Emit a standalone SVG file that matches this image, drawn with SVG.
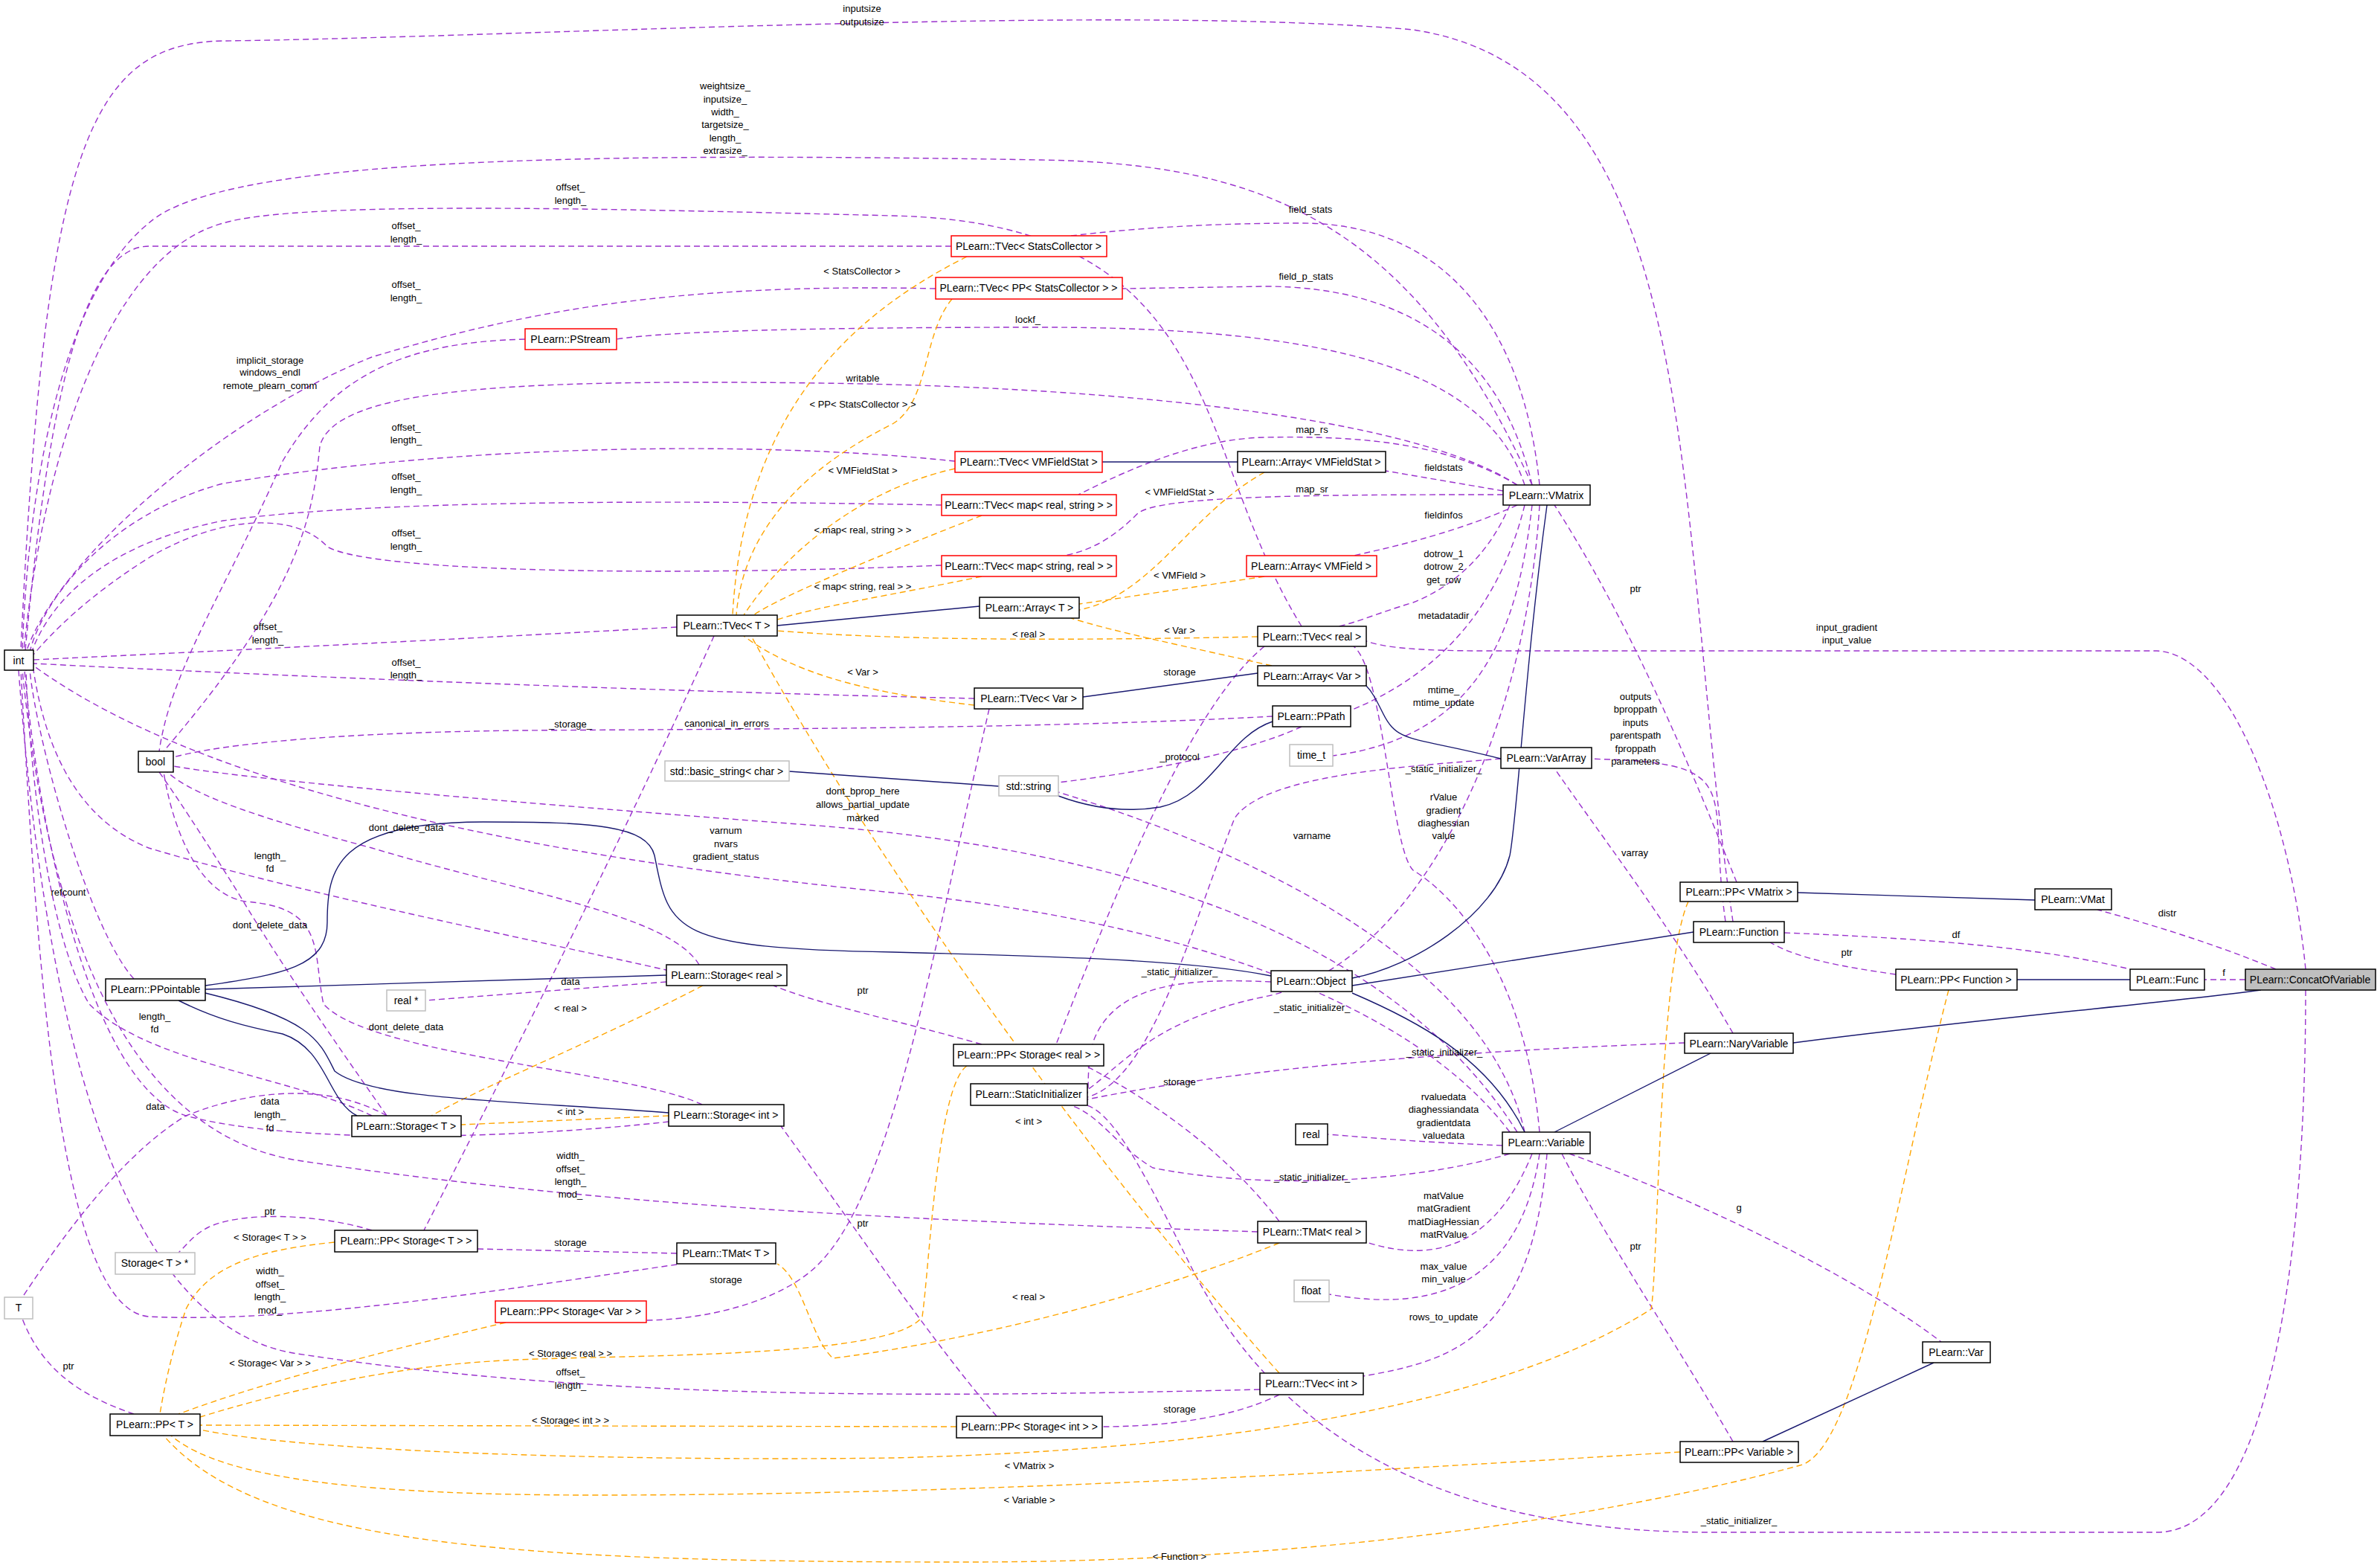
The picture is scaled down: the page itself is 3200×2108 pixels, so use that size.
<svg xmlns="http://www.w3.org/2000/svg" width="3200" height="2108" viewBox="0 0 3200 2108">
<style>
text{font-family:"Liberation Sans",Arial,sans-serif;fill:#000}
.n text{font-size:14px;text-anchor:middle}
.n rect{fill:#fff;stroke:#000;stroke-width:1.5}
.red rect{stroke:#ff0000}
.gray rect{stroke:#bfbfbf}
.cur rect{fill:#bfbfbf}
.l{font-size:13px;text-anchor:middle}
path{fill:none;stroke-width:1.4}
.p{stroke:#9a32cd;stroke-dasharray:8,5;marker-end:url(#mp)}
.o{stroke:#ffa500;stroke-dasharray:8,5;marker-end:url(#mo)}
.b{stroke:#191970;marker-end:url(#mb)}
</style>
<defs>
<marker id="mp" markerUnits="userSpaceOnUse" markerWidth="16" markerHeight="12" refX="15" refY="6" orient="auto"><path d="M0,0L16,6L0,12z" fill="#9a32cd" stroke="none"/></marker>
<marker id="mo" markerUnits="userSpaceOnUse" markerWidth="16" markerHeight="12" refX="15" refY="6" orient="auto"><path d="M0,0L16,6L0,12z" fill="#ffa500" stroke="none"/></marker>
<marker id="mb" markerUnits="userSpaceOnUse" markerWidth="16" markerHeight="12" refX="15" refY="6" orient="auto"><path d="M0,0L16,6L0,12z" fill="#191970" stroke="none"/></marker>
</defs>
<rect width="3200" height="2108" fill="#fff"/>
<g id="edges">
<path class="p" d="M2330,1239 C2250,700 2300,100 1900,40 C1500,5 700,50 300,55 C120,58 60,200 28,874"/>
<path class="p" d="M2060,652 C1900,300 1700,220 1400,215 C800,205 300,210 200,300 C100,380 40,600 30,874"/>
<path class="p" d="M1750,842 C1600,600 1650,300 1200,290 C800,280 400,270 300,300 C150,340 60,600 32,874"/>
<path class="p" d="M1279,331 L200,331 C100,331 60,600 34,874"/>
<path class="p" d="M1258,388 C900,380 700,420 500,480 C300,560 80,750 36,874"/>
<path class="p" d="M706,456 C550,460 450,500 380,620 C300,800 230,900 214,1010"/>
<path class="p" d="M2040,652 C1900,560 1500,520 1100,515 C700,510 450,520 430,600 C420,700 400,800 220,1010"/>
<path class="p" d="M1284,620 C1000,590 600,600 300,650 C150,690 60,800 40,876"/>
<path class="p" d="M1266,679 C900,672 500,672 300,700 C150,730 70,800 42,878"/>
<path class="p" d="M1266,760 C900,775 500,770 440,735 C400,690 300,690 200,750 C120,800 70,850 45,880"/>
<path class="p" d="M910,843 C600,860 300,875 45,887"/>
<path class="p" d="M1310,939 C900,930 400,910 45,892"/>
<path class="p" d="M1711,963 C1400,980 1000,980 700,982 C450,985 300,1000 233,1018"/>
<path class="p" d="M940,1297 C900,1230 700,1200 500,1140 C350,1100 260,1070 225,1038"/>
<path class="p" d="M520,1500 C450,1400 380,1300 320,1200 C270,1120 230,1060 214,1038"/>
<path class="p" d="M944,1485 C850,1440 500,1420 435,1350 C420,1280 440,1220 330,1212 C260,1200 230,1100 220,1038"/>
<path class="p" d="M900,1305 C700,1260 400,1200 200,1140 C100,1100 60,1000 45,901"/>
<path class="p" d="M180,1316 C120,1250 50,1000 40,901"/>
<path class="p" d="M500,1500 C400,1450 200,1430 120,1350 C60,1250 38,1000 35,901"/>
<path class="p" d="M520,1500 C450,1460 350,1460 250,1500 C150,1560 60,1700 30,1744"/>
<path class="p" d="M899,1508 C700,1530 400,1540 250,1500 C120,1460 50,1100 33,901"/>
<path class="p" d="M896,1320 L572,1345"/>
<path class="p" d="M1691,1656 C1200,1640 800,1620 400,1560 C150,1520 60,1200 30,901"/>
<path class="p" d="M500,1654 C420,1630 320,1630 280,1650 C260,1660 250,1675 240,1684"/>
<path class="p" d="M910,1685 L642,1679"/>
<path class="p" d="M910,1700 C700,1730 400,1780 200,1770 C80,1760 50,1300 28,901"/>
<path class="p" d="M1330,953 C1250,1300 1200,1600 1100,1700 C1050,1750 950,1774 869,1775"/>
<path class="p" d="M180,1901 C120,1880 60,1850 30,1773"/>
<path class="p" d="M1694,1868 C1200,1880 800,1880 400,1820 C200,1790 70,1500 25,901"/>
<path class="p" d="M960,855 C850,1100 700,1400 570,1654"/>
<path class="p" d="M1320,1404 C1200,1370 1100,1350 1040,1325"/>
<path class="p" d="M1340,1904 C1250,1800 1150,1650 1050,1514"/>
<path class="p" d="M1700,869 C1600,950 1500,1200 1420,1404"/>
<path class="p" d="M1720,1642 C1650,1550 1550,1480 1460,1433"/>
<path class="p" d="M1720,1875 C1650,1910 1550,1918 1482,1918"/>
<path class="p" d="M2070,652 C2050,450 1950,300 1750,300 C1600,300 1500,310 1440,317"/>
<path class="p" d="M2060,652 C2020,480 1900,385 1700,385 L1509,388"/>
<path class="p" d="M2050,652 C2000,500 1800,440 1400,440 C1100,440 900,445 829,456"/>
<path class="p" d="M2040,652 C1950,600 1850,585 1700,588 C1600,590 1500,640 1450,665"/>
<path class="p" d="M2021,660 L1863,633"/>
<path class="p" d="M2021,665 C1800,665 1560,665 1530,690 C1500,720 1470,740 1430,747"/>
<path class="p" d="M2040,679 C1950,720 1850,740 1820,747"/>
<path class="p" d="M2030,679 C2000,750 1950,790 1900,810 C1850,825 1830,835 1800,842"/>
<path class="p" d="M2050,679 C2020,800 1950,900 1816,955"/>
<path class="p" d="M2060,679 C2040,850 1990,990 1792,1016"/>
<path class="p" d="M2070,679 C2050,1000 1900,1300 1700,1340 C1550,1370 1500,1440 1462,1465"/>
<path class="p" d="M2018,1020 C1900,1030 1700,1040 1660,1100 C1600,1250 1550,1450 1462,1475"/>
<path class="p" d="M1709,1320 C1600,1315 1500,1320 1470,1400 C1460,1440 1465,1460 1462,1470"/>
<path class="p" d="M2265,1402 C2000,1412 1700,1430 1462,1478"/>
<path class="p" d="M2030,1551 C1900,1590 1700,1600 1550,1570 C1500,1540 1480,1500 1440,1486"/>
<path class="p" d="M3100,1331 C3100,1700 3050,2060 2900,2060 L2300,2060 C1900,2060 1700,1900 1600,1700 C1540,1580 1500,1500 1462,1486"/>
<path class="p" d="M3100,1303 C3080,1100 3000,880 2900,875 L2000,875 C1900,875 1860,870 1837,862"/>
<path class="p" d="M3060,1303 C2980,1270 2900,1245 2820,1223"/>
<path class="p" d="M3019,1317 L2964,1317"/>
<path class="p" d="M2399,1254 C2600,1262 2750,1275 2864,1303"/>
<path class="p" d="M2549,1310 C2480,1300 2420,1290 2380,1267"/>
<path class="p" d="M2335,1186 C2280,1050 2200,850 2090,679"/>
<path class="p" d="M2320,1239 C2300,1100 2330,1050 2250,1030 C2200,1020 2170,1022 2140,1020"/>
<path class="p" d="M2330,1389 C2250,1250 2150,1120 2090,1033"/>
<path class="p" d="M2110,1551 C2300,1620 2500,1720 2610,1804"/>
<path class="p" d="M2330,1938 C2250,1800 2150,1650 2100,1551"/>
<path class="p" d="M2070,1522 C2050,1300 1950,1200 1900,1170 C1870,1140 1860,900 1820,869"/>
<path class="p" d="M2050,1522 C2000,1300 1700,1150 1423,1065"/>
<path class="p" d="M2020,1540 C1900,1535 1850,1530 1785,1525"/>
<path class="p" d="M2060,1551 C2000,1700 1900,1690 1837,1670"/>
<path class="p" d="M2070,1551 C2040,1750 1900,1760 1787,1740"/>
<path class="p" d="M2080,1551 C2060,1800 1950,1830 1833,1850"/>
<path class="p" d="M2040,1522 C1900,1300 1600,1150 1100,1110 C700,1080 350,1050 233,1030"/>
<path class="p" d="M2030,1522 C1900,1350 1600,1240 1200,1200 C800,1160 300,1080 45,895"/>
<path class="p" d="M1750,977 C1700,1000 1600,1030 1423,1052"/>
<path class="o" d="M1300,345 C1150,420 1000,550 985,827"/>
<path class="o" d="M1280,402 C1240,450 1250,540 1200,570 C1100,620 1000,700 990,827"/>
<path class="o" d="M1284,630 C1150,660 1050,750 1000,827"/>
<path class="o" d="M1320,693 C1200,740 1050,800 1010,829"/>
<path class="o" d="M1320,775 C1200,800 1100,815 1045,833"/>
<path class="o" d="M1691,856 C1400,862 1200,860 1045,848"/>
<path class="o" d="M1310,948 C1150,930 1060,900 1000,855"/>
<path class="o" d="M1720,1846 C1500,1600 1200,1200 1010,855"/>
<path class="o" d="M1700,635 C1600,690 1550,800 1451,820"/>
<path class="o" d="M1700,775 C1600,790 1500,805 1451,812"/>
<path class="o" d="M1710,895 C1600,870 1500,850 1440,831"/>
<path class="o" d="M945,1325 C800,1400 650,1460 580,1500"/>
<path class="o" d="M899,1500 L620,1512"/>
<path class="o" d="M1720,1671 C1500,1760 1250,1810 1120,1826 C1090,1800 1080,1720 1045,1699"/>
<path class="o" d="M450,1670 C350,1680 280,1700 250,1760 C230,1820 220,1870 215,1901"/>
<path class="o" d="M680,1778 C500,1820 350,1860 240,1901"/>
<path class="o" d="M1300,1433 C1260,1460 1250,1700 1240,1770 C1200,1830 800,1820 660,1830 C500,1840 350,1880 269,1905"/>
<path class="o" d="M1286,1918 L269,1916"/>
<path class="o" d="M2270,1212 C2230,1300 2230,1700 2220,1760 C2000,1900 1600,1950 1200,1960 C800,1965 400,1950 269,1922"/>
<path class="o" d="M2259,1952 C1800,1980 1300,2010 800,2010 C500,2010 300,1990 230,1930"/>
<path class="o" d="M2620,1331 C2550,1600 2500,1950 2420,1970 C2200,2030 1800,2100 1300,2100 C700,2100 350,2080 220,1930"/>
<path class="b" d="M1664,621 L1482,621"/>
<path class="b" d="M1317,815 L1045,841"/>
<path class="b" d="M1691,905 L1456,937"/>
<path class="b" d="M2018,1020 C1900,990 1880,1000 1860,960 C1850,940 1845,930 1837,922"/>
<path class="b" d="M1711,970 C1650,990 1630,1070 1560,1085 C1500,1095 1450,1080 1423,1070"/>
<path class="b" d="M1343,1057 L1061,1037"/>
<path class="b" d="M2080,679 C2050,900 2040,1100 2030,1150 C2010,1230 1900,1300 1818,1315"/>
<path class="b" d="M1709,1312 C1600,1290 1400,1285 1200,1280 C900,1275 900,1250 880,1150 C870,1110 800,1105 650,1105 C450,1105 440,1170 440,1240 C440,1300 380,1310 276,1325"/>
<path class="b" d="M896,1311 L276,1330"/>
<path class="b" d="M899,1496 C700,1480 500,1480 450,1440 C430,1400 420,1370 276,1335"/>
<path class="b" d="M480,1500 C440,1480 440,1410 380,1390 C330,1380 290,1370 240,1345"/>
<path class="b" d="M2277,1253 L1818,1325"/>
<path class="b" d="M2050,1522 C2000,1420 1900,1370 1818,1335"/>
<path class="b" d="M2300,1416 L2090,1522"/>
<path class="b" d="M3040,1331 C2900,1350 2700,1365 2411,1402"/>
<path class="b" d="M2736,1210 L2417,1200"/>
<path class="b" d="M2864,1317 L2712,1317"/>
<path class="b" d="M2600,1832 L2370,1938"/>
</g>
<g id="labels" class="l">
<text class="l" x="1159" y="16">inputsize</text><text class="l" x="1159" y="34">outputsize</text>
<text class="l" x="975" y="120">weightsize_</text><text class="l" x="975" y="138">inputsize_</text><text class="l" x="975" y="155">width_</text><text class="l" x="975" y="172">targetsize_</text><text class="l" x="975" y="190">length_</text><text class="l" x="975" y="207">extrasize_</text>
<text class="l" x="767" y="256">offset_</text><text class="l" x="767" y="274">length_</text>
<text class="l" x="546" y="308">offset_</text><text class="l" x="546" y="326">length_</text>
<text class="l" x="546" y="387">offset_</text><text class="l" x="546" y="405">length_</text>
<text class="l" x="363" y="489">implicit_storage</text><text class="l" x="363" y="505">windows_endl</text><text class="l" x="363" y="523">remote_plearn_comm</text>
<text class="l" x="546" y="579">offset_</text><text class="l" x="546" y="596">length_</text>
<text class="l" x="546" y="645">offset_</text><text class="l" x="546" y="663">length_</text>
<text class="l" x="546" y="721">offset_</text><text class="l" x="546" y="739">length_</text>
<text class="l" x="360" y="847">offset_</text><text class="l" x="360" y="865">length_</text>
<text class="l" x="546" y="895">offset_</text><text class="l" x="546" y="912">length_</text>
<text class="l" x="767" y="978">_storage_</text><text class="l" x="977" y="977">canonical_in_errors</text>
<text class="l" x="546" y="1117">dont_delete_data</text>
<text class="l" x="363" y="1155">length_</text><text class="l" x="363" y="1172">fd</text>
<text class="l" x="92" y="1204">refcount</text>
<text class="l" x="363" y="1248">dont_delete_data</text>
<text class="l" x="208" y="1371">length_</text><text class="l" x="208" y="1388">fd</text>
<text class="l" x="546" y="1385">dont_delete_data</text>
<text class="l" x="767" y="1324">data</text>
<text class="l" x="767" y="1360">&lt; real &gt;</text>
<text class="l" x="209" y="1492">data</text>
<text class="l" x="363" y="1485">data</text><text class="l" x="363" y="1503">length_</text><text class="l" x="363" y="1521">fd</text>
<text class="l" x="767" y="1499">&lt; int &gt;</text>
<text class="l" x="767" y="1558">width_</text><text class="l" x="767" y="1576">offset_</text><text class="l" x="767" y="1593">length_</text><text class="l" x="767" y="1610">mod_</text>
<text class="l" x="363" y="1633">ptr</text>
<text class="l" x="363" y="1668">&lt; Storage&lt; T &gt; &gt;</text>
<text class="l" x="767" y="1675">storage</text>
<text class="l" x="363" y="1713">width_</text><text class="l" x="363" y="1731">offset_</text><text class="l" x="363" y="1748">length_</text><text class="l" x="363" y="1766">mod_</text>
<text class="l" x="976" y="1725">storage</text>
<text class="l" x="92" y="1841">ptr</text>
<text class="l" x="363" y="1837">&lt; Storage&lt; Var &gt; &gt;</text>
<text class="l" x="767" y="1824">&lt; Storage&lt; real &gt; &gt;</text>
<text class="l" x="767" y="1849">offset_</text><text class="l" x="767" y="1867">length_</text>
<text class="l" x="767" y="1914">&lt; Storage&lt; int &gt; &gt;</text>
<text class="l" x="1384" y="1975">&lt; VMatrix &gt;</text>
<text class="l" x="1384" y="2021">&lt; Variable &gt;</text>
<text class="l" x="1586" y="2097">&lt; Function &gt;</text>
<text class="l" x="1762" y="286">field_stats</text>
<text class="l" x="1159" y="369">&lt; StatsCollector &gt;</text>
<text class="l" x="1756" y="376">field_p_stats</text>
<text class="l" x="1382" y="434">lockf_</text>
<text class="l" x="1160" y="513">writable</text>
<text class="l" x="1160" y="548">&lt; PP&lt; StatsCollector &gt; &gt;</text>
<text class="l" x="1764" y="582">map_rs</text>
<text class="l" x="1160" y="637">&lt; VMFieldStat &gt;</text>
<text class="l" x="1941" y="633">fieldstats</text>
<text class="l" x="1586" y="666">&lt; VMFieldStat &gt;</text>
<text class="l" x="1764" y="662">map_sr</text>
<text class="l" x="1941" y="697">fieldinfos</text>
<text class="l" x="1160" y="717">&lt; map&lt; real, string &gt; &gt;</text>
<text class="l" x="1941" y="749">dotrow_1</text><text class="l" x="1941" y="766">dotrow_2</text><text class="l" x="1941" y="784">get_row</text>
<text class="l" x="1586" y="778">&lt; VMField &gt;</text>
<text class="l" x="1160" y="793">&lt; map&lt; string, real &gt; &gt;</text>
<text class="l" x="1941" y="832">metadatadir</text>
<text class="l" x="1586" y="852">&lt; Var &gt;</text>
<text class="l" x="1383" y="857">&lt; real &gt;</text>
<text class="l" x="1160" y="908">&lt; Var &gt;</text>
<text class="l" x="1586" y="908">storage</text>
<text class="l" x="1941" y="932">mtime_</text><text class="l" x="1941" y="949">mtime_update</text>
<text class="l" x="1586" y="1022">_protocol</text>
<text class="l" x="1941" y="1038">_static_initializer_</text>
<text class="l" x="1160" y="1068">dont_bprop_here</text><text class="l" x="1160" y="1086">allows_partial_update</text><text class="l" x="1160" y="1104">marked</text>
<text class="l" x="1941" y="1076">rValue</text><text class="l" x="1941" y="1094">gradient</text><text class="l" x="1941" y="1111">diaghessian</text><text class="l" x="1941" y="1128">value</text>
<text class="l" x="976" y="1121">varnum</text><text class="l" x="976" y="1139">nvars</text><text class="l" x="976" y="1156">gradient_status</text>
<text class="l" x="1764" y="1128">varname</text>
<text class="l" x="1586" y="1311">_static_initializer_</text>
<text class="l" x="1160" y="1336">ptr</text>
<text class="l" x="1764" y="1359">_static_initializer_</text>
<text class="l" x="1942" y="1419">_static_initializer_</text>
<text class="l" x="1586" y="1459">storage</text>
<text class="l" x="1941" y="1479">rvaluedata</text><text class="l" x="1941" y="1496">diaghessiandata</text><text class="l" x="1941" y="1514">gradientdata</text><text class="l" x="1941" y="1531">valuedata</text>
<text class="l" x="1383" y="1512">&lt; int &gt;</text>
<text class="l" x="1764" y="1587">_static_initializer_</text>
<text class="l" x="1941" y="1612">matValue</text><text class="l" x="1941" y="1629">matGradient</text><text class="l" x="1941" y="1647">matDiagHessian</text><text class="l" x="1941" y="1664">matRValue</text>
<text class="l" x="1160" y="1649">ptr</text>
<text class="l" x="1941" y="1707">max_value</text><text class="l" x="1941" y="1724">min_value</text>
<text class="l" x="1383" y="1748">&lt; real &gt;</text>
<text class="l" x="1941" y="1775">rows_to_update</text>
<text class="l" x="1586" y="1899">storage</text>
<text class="l" x="2199" y="796">ptr</text>
<text class="l" x="2483" y="848">input_gradient</text><text class="l" x="2483" y="865">input_value</text>
<text class="l" x="2199" y="941">outputs</text><text class="l" x="2199" y="958">bproppath</text><text class="l" x="2199" y="976">inputs</text><text class="l" x="2199" y="993">parentspath</text><text class="l" x="2199" y="1011">fproppath</text><text class="l" x="2199" y="1028">parameters</text>
<text class="l" x="2198" y="1151">varray</text>
<text class="l" x="2914" y="1232">distr</text>
<text class="l" x="2630" y="1261">df</text>
<text class="l" x="2483" y="1285">ptr</text>
<text class="l" x="2990" y="1312">f</text>
<text class="l" x="2338" y="1628">g</text>
<text class="l" x="2199" y="1680">ptr</text>
<text class="l" x="2338" y="2049">_static_initializer_</text>
</g>
<g id="n_int" class="n"><rect x="6" y="874" width="39" height="27"/><text x="25" y="893">int</text></g>
<g id="n_bool" class="n"><rect x="186" y="1010" width="47" height="28"/><text x="209" y="1029">bool</text></g>
<g id="n_pstream" class="n red"><rect x="706" y="442" width="123" height="28"/><text x="767" y="461">PLearn::PStream</text></g>
<g id="n_tvect" class="n"><rect x="910" y="827" width="135" height="28"/><text x="977" y="846">PLearn::TVec&lt; T &gt;</text></g>
<g id="n_bstring" class="n gray"><rect x="894" y="1023" width="167" height="27"/><text x="977" y="1042">std::basic_string&lt; char &gt;</text></g>
<g id="n_tvecsc" class="n red"><rect x="1279" y="317" width="209" height="28"/><text x="1383" y="336">PLearn::TVec&lt; StatsCollector &gt;</text></g>
<g id="n_tvecppsc" class="n red"><rect x="1258" y="373" width="251" height="29"/><text x="1383" y="392">PLearn::TVec&lt; PP&lt; StatsCollector &gt; &gt;</text></g>
<g id="n_tvecvmfs" class="n red"><rect x="1284" y="607" width="198" height="28"/><text x="1383" y="626">PLearn::TVec&lt; VMFieldStat &gt;</text></g>
<g id="n_arrvmfs" class="n"><rect x="1664" y="607" width="199" height="28"/><text x="1763" y="626">PLearn::Array&lt; VMFieldStat &gt;</text></g>
<g id="n_tvecmrs" class="n red"><rect x="1266" y="665" width="235" height="28"/><text x="1383" y="684">PLearn::TVec&lt; map&lt; real, string &gt; &gt;</text></g>
<g id="n_tvecmsr" class="n red"><rect x="1266" y="747" width="235" height="28"/><text x="1383" y="766">PLearn::TVec&lt; map&lt; string, real &gt; &gt;</text></g>
<g id="n_arrvmf" class="n red"><rect x="1676" y="747" width="175" height="28"/><text x="1763" y="766">PLearn::Array&lt; VMField &gt;</text></g>
<g id="n_arrt" class="n"><rect x="1317" y="803" width="134" height="28"/><text x="1384" y="822">PLearn::Array&lt; T &gt;</text></g>
<g id="n_vmatrix" class="n"><rect x="2021" y="652" width="117" height="27"/><text x="2079" y="671">PLearn::VMatrix</text></g>
<g id="n_tvecreal" class="n"><rect x="1691" y="842" width="146" height="27"/><text x="1764" y="861">PLearn::TVec&lt; real &gt;</text></g>
<g id="n_arrvar" class="n"><rect x="1691" y="895" width="146" height="27"/><text x="1764" y="914">PLearn::Array&lt; Var &gt;</text></g>
<g id="n_tvecvar" class="n"><rect x="1310" y="925" width="146" height="28"/><text x="1383" y="944">PLearn::TVec&lt; Var &gt;</text></g>
<g id="n_ppath" class="n"><rect x="1711" y="949" width="105" height="28"/><text x="1763" y="968">PLearn::PPath</text></g>
<g id="n_timet" class="n gray"><rect x="1734" y="1001" width="58" height="29"/><text x="1763" y="1020">time_t</text></g>
<g id="n_vararray" class="n"><rect x="2018" y="1005" width="122" height="28"/><text x="2079" y="1024">PLearn::VarArray</text></g>
<g id="n_string" class="n gray"><rect x="1343" y="1043" width="80" height="27"/><text x="1383" y="1062">std::string</text></g>
<g id="n_ppointable" class="n"><rect x="142" y="1316" width="134" height="29"/><text x="209" y="1335">PLearn::PPointable</text></g>
<g id="n_storreal" class="n"><rect x="896" y="1297" width="162" height="28"/><text x="977" y="1316">PLearn::Storage&lt; real &gt;</text></g>
<g id="n_realp" class="n gray"><rect x="520" y="1331" width="52" height="28"/><text x="546" y="1350">real *</text></g>
<g id="n_stort" class="n"><rect x="473" y="1500" width="147" height="28"/><text x="546" y="1519">PLearn::Storage&lt; T &gt;</text></g>
<g id="n_storint" class="n"><rect x="899" y="1485" width="155" height="29"/><text x="976" y="1504">PLearn::Storage&lt; int &gt;</text></g>
<g id="n_ppstort" class="n"><rect x="450" y="1654" width="192" height="29"/><text x="546" y="1673">PLearn::PP&lt; Storage&lt; T &gt; &gt;</text></g>
<g id="n_stortp" class="n gray"><rect x="155" y="1684" width="107" height="29"/><text x="208" y="1703">Storage&lt; T &gt; *</text></g>
<g id="n_tmatt" class="n"><rect x="910" y="1671" width="133" height="28"/><text x="976" y="1690">PLearn::TMat&lt; T &gt;</text></g>
<g id="n_t" class="n gray"><rect x="6" y="1744" width="38" height="29"/><text x="25" y="1763">T</text></g>
<g id="n_ppstorvar" class="n red"><rect x="666" y="1749" width="203" height="29"/><text x="767" y="1768">PLearn::PP&lt; Storage&lt; Var &gt; &gt;</text></g>
<g id="n_ppt" class="n"><rect x="148" y="1901" width="121" height="29"/><text x="208" y="1920">PLearn::PP&lt; T &gt;</text></g>
<g id="n_object" class="n"><rect x="1709" y="1305" width="109" height="28"/><text x="1763" y="1324">PLearn::Object</text></g>
<g id="n_ppstorreal" class="n"><rect x="1282" y="1404" width="202" height="29"/><text x="1383" y="1423">PLearn::PP&lt; Storage&lt; real &gt; &gt;</text></g>
<g id="n_si" class="n"><rect x="1305" y="1457" width="157" height="29"/><text x="1383" y="1476">PLearn::StaticInitializer</text></g>
<g id="n_real" class="n"><rect x="1742" y="1511" width="43" height="28"/><text x="1763" y="1530">real</text></g>
<g id="n_variable" class="n"><rect x="2020" y="1522" width="118" height="29"/><text x="2079" y="1541">PLearn::Variable</text></g>
<g id="n_tmatreal" class="n"><rect x="1691" y="1642" width="146" height="29"/><text x="1764" y="1661">PLearn::TMat&lt; real &gt;</text></g>
<g id="n_float" class="n gray"><rect x="1740" y="1721" width="47" height="29"/><text x="1763" y="1740">float</text></g>
<g id="n_tvecint" class="n"><rect x="1694" y="1846" width="139" height="29"/><text x="1763" y="1865">PLearn::TVec&lt; int &gt;</text></g>
<g id="n_ppstorint" class="n"><rect x="1286" y="1904" width="196" height="29"/><text x="1384" y="1923">PLearn::PP&lt; Storage&lt; int &gt; &gt;</text></g>
<g id="n_ppvmatrix" class="n"><rect x="2259" y="1186" width="158" height="26"/><text x="2338" y="1204">PLearn::PP&lt; VMatrix &gt;</text></g>
<g id="n_vmat" class="n"><rect x="2736" y="1195" width="103" height="28"/><text x="2787" y="1214">PLearn::VMat</text></g>
<g id="n_function" class="n"><rect x="2277" y="1239" width="122" height="28"/><text x="2338" y="1258">PLearn::Function</text></g>
<g id="n_ppfunction" class="n"><rect x="2549" y="1303" width="163" height="28"/><text x="2630" y="1322">PLearn::PP&lt; Function &gt;</text></g>
<g id="n_func" class="n"><rect x="2864" y="1303" width="100" height="28"/><text x="2914" y="1322">PLearn::Func</text></g>
<g id="n_concat" class="n cur"><rect x="3019" y="1303" width="175" height="28"/><text x="3106" y="1322">PLearn::ConcatOfVariable</text></g>
<g id="n_nary" class="n"><rect x="2265" y="1389" width="146" height="27"/><text x="2338" y="1408">PLearn::NaryVariable</text></g>
<g id="n_var" class="n"><rect x="2585" y="1804" width="91" height="28"/><text x="2630" y="1823">PLearn::Var</text></g>
<g id="n_ppvariable" class="n"><rect x="2259" y="1938" width="159" height="28"/><text x="2338" y="1957">PLearn::PP&lt; Variable &gt;</text></g>
</svg>
